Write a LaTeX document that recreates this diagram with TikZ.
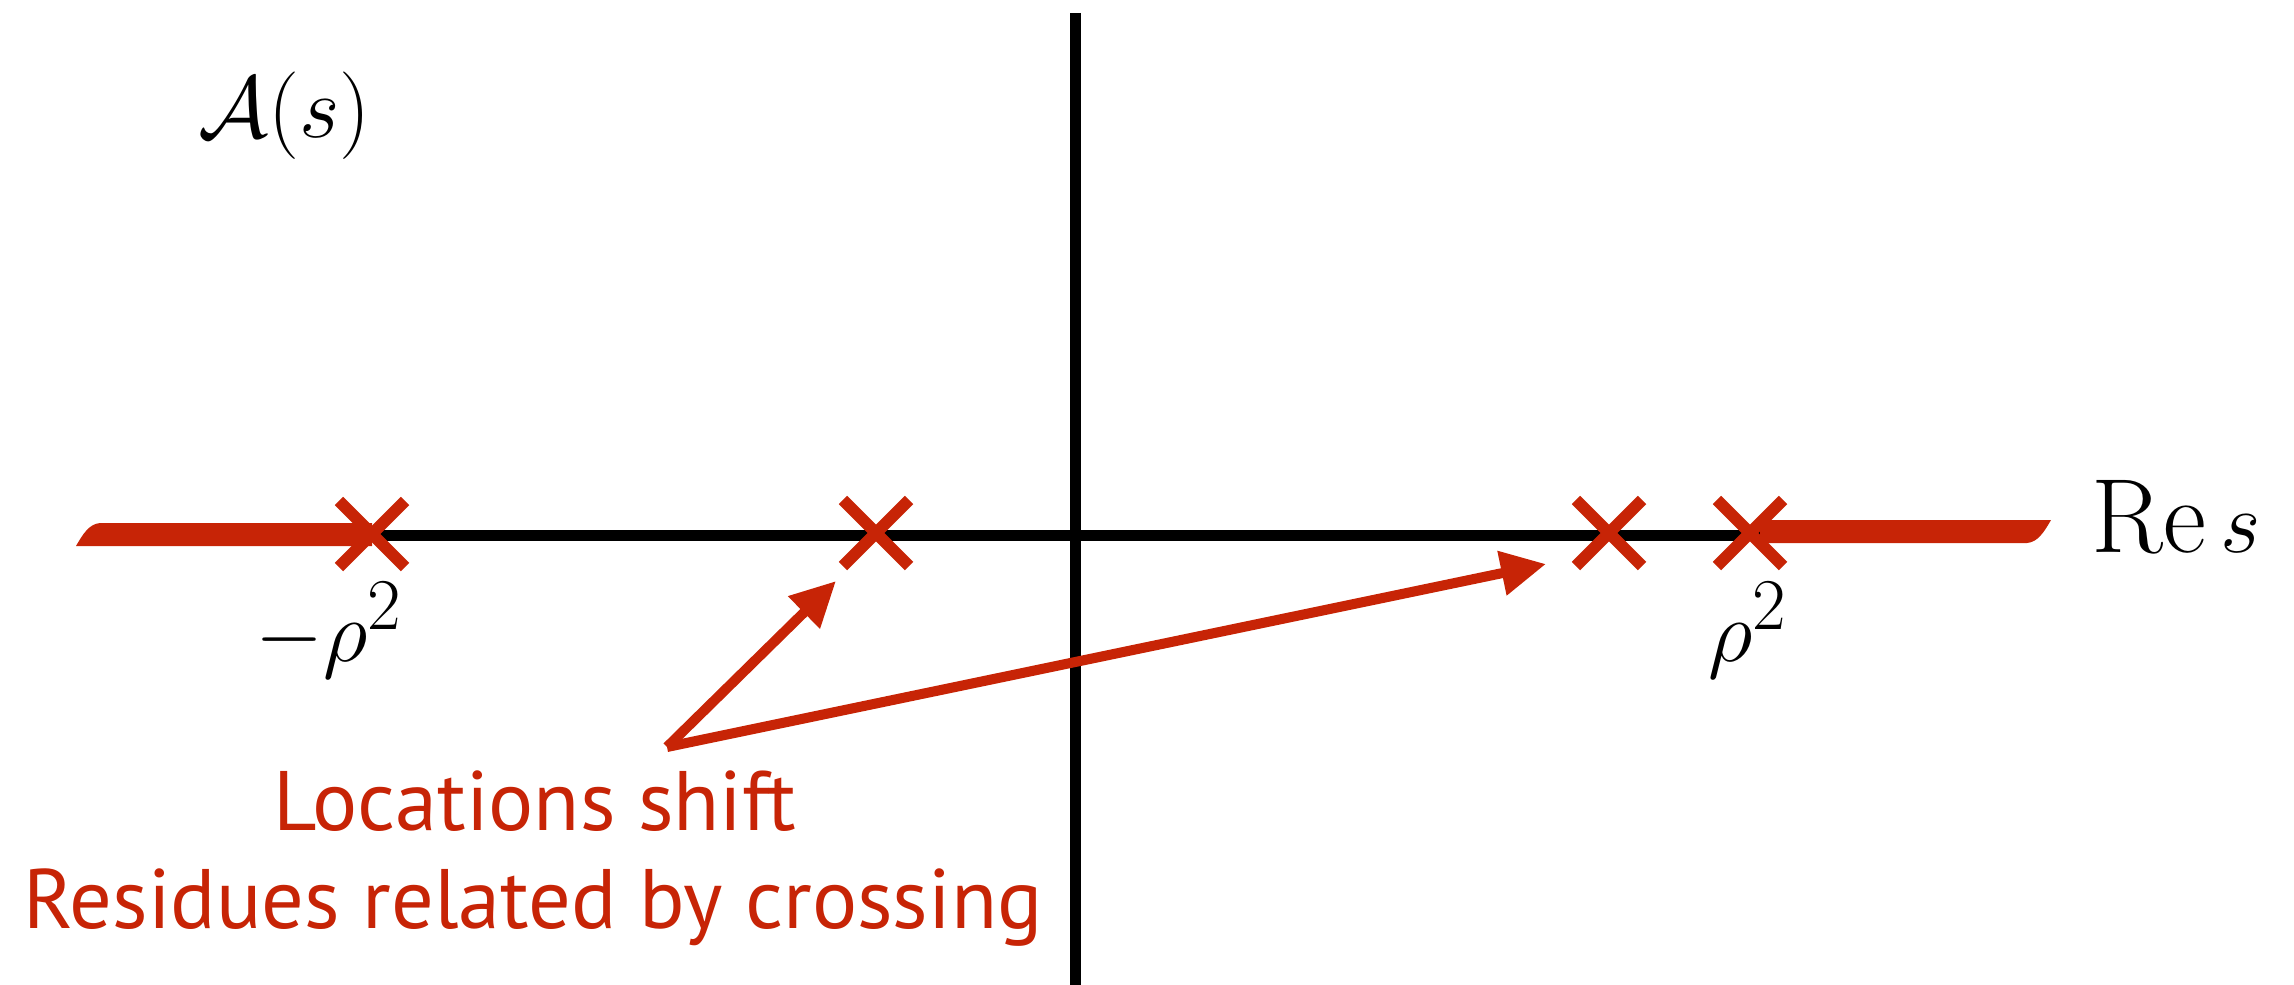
\documentclass[tikz,border=0pt]{standalone}
\usepackage{fontspec}
\usepackage{amsmath}
\setsansfont{PT Sans}
\usetikzlibrary{arrows.meta,shapes.misc}
\definecolor{cutred}{RGB}{199,36,6}
\tikzset{
  axisline/.style={line width=3.13pt, black},
  pole/.style={cross out, draw=cutred, line width=3.4pt, minimum size=0.66cm, inner sep=0pt, outer sep=0pt},
  cutfill/.style={fill=cutred, draw=none},
  pointer/.style={draw=cutred, line width=2.85pt, line join=bevel, -{Triangle[length=12.8pt,width=12.2pt]}},
  mathlbl/.style={inner sep=0pt, font=\fontsize{30}{36}\selectfont},
  notetext/.style={inner sep=0pt, text=cutred, font=\sffamily\fontsize{24}{28}\selectfont}
}
\begin{document}
\begin{tikzpicture}[x=0.01cm, y=-0.01cm]
\useasboundingbox (0,0) rectangle (2294,985);
% axes
\draw[axisline] (1075,13) -- (1075,985);
\draw[axisline] (97,535.5) -- (1760,535.5);
% branch cuts
\path[cutfill] (100,523) -- (372,523) -- (372,546) -- (76,546) .. controls (83,534) and (89,524) .. (100,523) -- cycle;
\path[cutfill] (1760,520) -- (2051,520) .. controls (2044,532) and (2038,542) .. (2027,543) -- (1760,543) -- cycle;
% poles
\node[pole] (p1) at (372,534) {};
\node[pole] (p2) at (876,533) {};
\node[pole] (p3) at (1609,533) {};
\node[pole] (p4) at (1750,533) {};
% labels
\node[mathlbl, anchor=base] (lm) at (329,661) {$-\rho^2$};
\node[mathlbl, anchor=base] (lp) at (1748,661) {$\rho^2$};
\node[mathlbl, anchor=base west] (res) at (2091,552) {$\mathrm{Re}\, s$};
\node[mathlbl, anchor=base west] (amp) at (198,138) {$\mathcal{A}(s)$};
% arrows
\coordinate (src) at (667,747);
\coordinate (t2) at (836,581);
\coordinate (t3) at (1546,564);
\draw[pointer] (src) -- (t2);
\draw[pointer] (src) -- (t3);
% notes
\node[notetext, anchor=base] (n1) at (535,830) {Locations shift};
\node[notetext, anchor=base] (n2) at (533,928) {Residues related by crossing};
\end{tikzpicture}
\end{document}
